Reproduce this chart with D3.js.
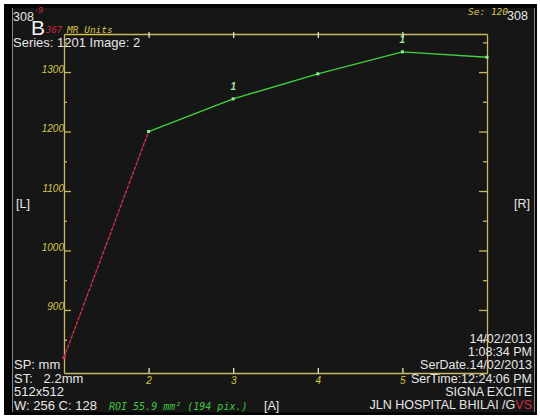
<!DOCTYPE html>
<html><head><meta charset="utf-8">
<script src="https://cdn.jsdelivr.net/npm/d3@7"></script>
<style>
html,body{margin:0;padding:0;background:#fff;}
svg{display:block;}
text{white-space:pre;}
</style></head>
<body>
<script>
// ---- data ----
const timePoints = [1, 2, 3, 4, 5, 6];
const signalValues = [820, 1200, 1255, 1297, 1334, 1325];
const segmentColors = ["#c8304a", "#3ed23e", "#3ed23e", "#3ed23e", "#3ed23e"];
const yMajorTicks = [900, 1000, 1100, 1200, 1300];
const yMinorTicks = [850, 950, 1050, 1150, 1250, 1350];
const xTicks = [2, 3, 4, 5];
const pointLabels = [{i: 2, text: "1"}, {i: 4, text: "1"}];
const leftInfo = ["SP: mm", "ST:\u00a0\u00a0\u00a02.2mm", "512x512"];
const rightInfo = ["14/02/2013", "1:08:34 PM", "SerDate.14/02/2013", "SerTime:12:24:06 PM", "SIGNA EXCITE"];

const W = 540, H = 419;
const svg = d3.select("body").append("svg").attr("width", W).attr("height", H);

// frame
svg.append("rect").attr("x", 4).attr("y", 4).attr("width", 533).attr("height", 411).attr("fill", "#050505");
svg.append("rect").attr("x", 12).attr("y", 8).attr("width", 522).attr("height", 404).attr("fill", "#161616");
svg.append("line").attr("x1", 12.5).attr("x2", 12.5).attr("y1", 8).attr("y2", 412).attr("stroke", "#8a8a8a");
svg.append("line").attr("x1", 534.5).attr("x2", 534.5).attr("y1", 8).attr("y2", 412).attr("stroke", "#8a8a8a");

const x = d3.scaleLinear().domain([1, 6]).range([64, 487]);
const y = d3.scaleLinear().domain([794, 1364]).range([373, 34]);

const axisColor = "#c9b862";
const labelColor = "#d6c64a";

function styleAxis(g) {
  g.selectAll("path,line").attr("stroke", axisColor).attr("stroke-width", 1.3);
  g.selectAll("text").attr("fill", labelColor).attr("font-family", "Liberation Sans, Arial, sans-serif")
    .attr("font-style", "italic").attr("font-size", 10);
}

// left axis
const gl = svg.append("g").attr("transform", `translate(${x(1)},0)`)
  .call(d3.axisLeft(y).tickValues(yMajorTicks).tickSizeInner(-7).tickSizeOuter(0).tickPadding(1).tickFormat(d3.format("d")));
styleAxis(gl);
gl.selectAll("text").attr("dy", "0").attr("x", 0);
svg.append("g").attr("transform", `translate(${x(1)},0)`)
  .call(d3.axisLeft(y).tickValues(yMinorTicks).tickSizeInner(-3).tickSizeOuter(0).tickFormat(""))
  .call(g => g.select(".domain").remove()).call(styleAxis);

// right axis
const gr = svg.append("g").attr("transform", `translate(${x(6)},0)`)
  .call(d3.axisRight(y).tickValues(yMajorTicks).tickSizeInner(-8).tickSizeOuter(0).tickFormat(""));
styleAxis(gr);
svg.append("g").attr("transform", `translate(${x(6)},0)`)
  .call(d3.axisRight(y).tickValues(yMinorTicks).tickSizeInner(-4).tickSizeOuter(0).tickFormat(""))
  .call(g => g.select(".domain").remove()).call(styleAxis);

// top axis
const gt = svg.append("g").attr("transform", `translate(0,${y(1364)})`)
  .call(d3.axisTop(x).tickValues(xTicks).tickSizeInner(-4).tickSizeOuter(0).tickFormat(""));
styleAxis(gt);
gt.selectAll(".tick line").attr("y1", -2).attr("stroke", "#e8e0c0");

// bottom axis
const gb = svg.append("g").attr("transform", `translate(0,${y(794)})`)
  .call(d3.axisBottom(x).tickValues(xTicks).tickSizeInner(-5).tickSizeOuter(0).tickPadding(4).tickFormat(d3.format("d")));
styleAxis(gb);
gb.selectAll(".tick line").attr("stroke", "#e8e0c0");

// data segments
const pts = timePoints.map((t, i) => ({t, v: signalValues[i]}));
const segs = d3.pairs(pts).map((p, i) => ({a: p[0], b: p[1], c: segmentColors[i]}));
svg.append("g").selectAll("line").data(segs).join("line")
  .attr("x1", d => x(d.a.t)).attr("y1", d => y(d.a.v))
  .attr("x2", d => x(d.b.t)).attr("y2", d => y(d.b.v))
  .attr("stroke", d => d.c).attr("stroke-width", 1.4)
  .attr("stroke-dasharray", d => d.c === "#c8304a" ? "4,1" : null);

svg.append("g").selectAll("rect").data(pts.slice(1)).join("rect")
  .attr("x", d => x(d.t) - 1.5).attr("y", d => y(d.v) - 1.5).attr("width", 3).attr("height", 3)
  .attr("fill", "#8cf08c");
svg.append("rect").attr("x", x(pts[0].t) - 1.5).attr("y", y(pts[0].v) - 1.5).attr("width", 3).attr("height", 3).attr("fill", "#d83048");

svg.append("g").selectAll("text").data(pointLabels).join("text")
  .attr("x", d => x(pts[d.i].t)).attr("y", d => y(pts[d.i].v) - 9)
  .attr("text-anchor", "middle").attr("font-family", "Liberation Sans, Arial, sans-serif")
  .attr("font-style", "italic").attr("font-weight", "bold").attr("font-size", 10).attr("fill", "#a8e0a0").text(d => d.text);

// overlay text
const sans = "Liberation Sans, Arial, sans-serif";
const mono = "DejaVu Sans Mono, monospace";
function txt(xp, yp, s, opts = {}) {
  return svg.append("text").attr("x", xp).attr("y", yp).text(s)
    .attr("font-family", opts.family || sans).attr("font-size", opts.size || 12.5)
    .attr("fill", opts.fill || "#e6e6e6").attr("font-style", opts.style || "normal")
    .attr("text-anchor", opts.anchor || "start");
}
txt(13, 21, "308");
txt(35, 13, "-9", {fill: "#d02840", size: 9, style: "italic"});
txt(46, 33, "367", {fill: "#d02840", size: 9, style: "italic", family: mono});
txt(67, 33, "MR Units", {fill: "#d6c64a", size: 9.5, style: "italic", family: mono}).attr("text-decoration", "underline");
txt(31, 35, "B", {size: 21, fill: "#f2f2f2"});
txt(13, 47, "Series: 1201 Image: 2", {size: 13});
txt(468, 15, "Se: 120", {fill: "#d6c64a", size: 9.5, style: "italic", family: mono});
txt(507, 20, "308");
txt(16, 208, "[L]");
txt(514, 208, "[R]");
leftInfo.forEach((s, i) => txt(14, 369 + i * 13.6, s, {size: 13}));
txt(14, 410, "W: 256 C: 128", {size: 13});
txt(109, 410, "ROI 55.9 mm² (194 pix.)", {fill: "#3ec43e", size: 10, style: "italic", family: mono});
txt(264, 410, "[A]", {size: 12.5});
rightInfo.forEach((s, i) => txt(532, 343 + i * 13.2, s, {anchor: "end"}));
const last = txt(532, 409, "", {anchor: "end"});
last.append("tspan").text("JLN HOSPITAL BHILAI /G");
last.append("tspan").attr("fill", "#c83048").text("VS");
</script>
</body></html>
